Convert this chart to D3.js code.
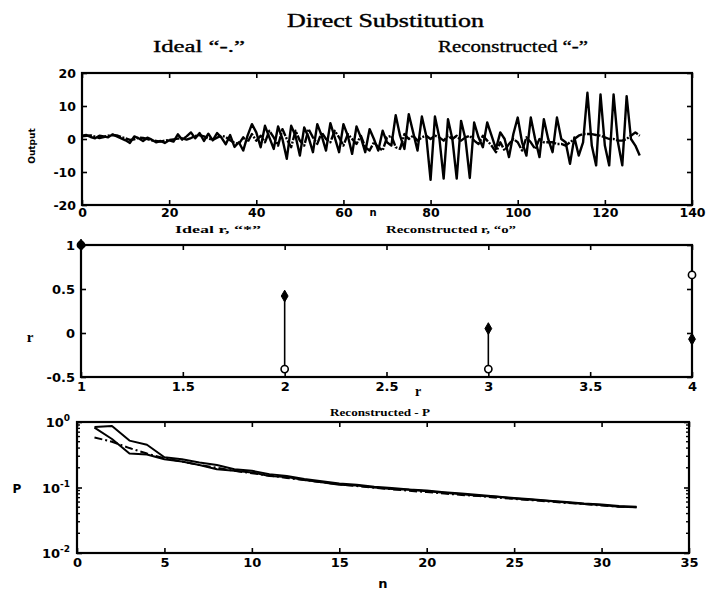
<!DOCTYPE html>
<html><head><meta charset="utf-8">
<script src="https://cdn.jsdelivr.net/npm/d3@7"></script>
<style>body{margin:0;background:#fff}svg{display:block}</style>
</head><body>
<svg id="c" width="711" height="591"></svg>
<script>
// ---- Output signals, n = 0..128 ----
const outIdeal = [
  0.8,1.0,1.1,0.7,0.3,0.6,1.0,1.2,1.1,0.6,0.2,-0.3,-0.1,0.4,0.3,0.0,-0.4,-0.6,-0.8,-0.5,
  -0.3,-0.1,0.1,0.2,-0.2,0.3,0.9,1.2,0.8,0.2,-0.3,0.4,1.0,0.6,-0.4,-1.2,-1.5,0.5,-1.0,1.5,
  -0.5,1.0,-1.0,2.5,0.5,-2.0,3.0,0.0,-2.5,2.5,-0.5,-2.0,3.0,0.5,-1.5,2.0,0.0,-1.0,2.5,0.5,
  -2.0,1.5,0.0,-1.5,1.0,-2.5,-3.5,-1.0,-2.5,-3.5,0.5,1.0,-2.5,-3.0,1.5,0.0,1.0,-0.5,0.5,1.0,
  0.0,1.0,0.5,-0.5,1.0,0.0,1.0,-0.5,0.5,1.0,-0.5,-1.5,1.0,-0.5,-2.0,-4.0,-1.0,-3.5,-1.5,0.0,
  -1.0,-3.5,0.5,-1.0,-3.0,0.0,-1.0,-1.0,-1.0,-1.5,-1.5,-2.0,-1.0,0.0,1.0,1.5,1.5,1.5,1.2,1.0,
  0.5,0.0,0.0,-0.5,-0.5,0.0,1.0,2.0,1.0
];
const outRecon = [
  1.0,1.2,0.6,0.2,1.0,0.8,0.5,1.4,0.8,0.2,-0.4,-1.2,0.8,0.2,-0.6,0.4,-0.2,-1.0,-0.6,-1.2,
  -0.4,-0.8,1.4,-0.2,0.8,2.0,0.2,1.8,-0.6,1.6,-0.4,1.8,0.4,-1.6,1.2,-2.4,-1.0,-3.5,1.0,4.5,
  2.0,-2.5,4.0,0.5,-3.0,3.8,0.0,-6.0,4.0,1.0,-5.0,3.5,0.5,-4.0,4.5,1.0,-3.5,4.8,0.5,-4.0,
  4.5,1.0,-4.5,3.8,0.5,-4.0,3.0,0.0,-3.5,2.5,-1.0,-2.0,7.2,1.0,-3.0,7.5,2.0,-3.5,6.8,1.0,
  -12.4,6.8,0.5,-12.0,6.0,0.0,-12.0,5.5,0.0,-11.8,5.0,0.5,-2.5,5.0,1.0,-3.0,2.0,0.0,-5.5,1.5,
  6.5,-1.0,-5.0,6.5,0.0,-5.5,6.0,0.0,-4.0,6.5,0.0,-1.0,-7.5,0.5,-5.0,-1.0,14.0,-2.0,-8.0,13.5,
  -2.0,-8.0,13.5,-1.0,-8.0,13.0,0.0,-2.0,-5.0
];
const outN = outRecon.map((_, i) => i);

// ---- Reflection coefficients ----
const rOrder = [1, 2, 3, 4];
const rIdeal = [1, 0.42, 0.05, -0.07];
const rRecon = [1, -0.41, -0.41, 0.66];

// ---- Prediction error P, n = 1..32 ----
const pReconA = [0.84,0.87,0.52,0.45,0.29,0.27,0.24,0.22,0.19,0.18,0.16,0.15,0.135,0.125,0.115,0.11,
  0.103,0.098,0.093,0.09,0.085,0.081,0.077,0.073,0.069,0.066,0.063,0.06,0.057,0.055,0.052,0.051];
const pReconB = [0.82,0.55,0.33,0.32,0.27,0.25,0.22,0.19,0.18,0.17,0.15,0.145,0.13,0.12,0.11,0.107,
  0.1,0.095,0.092,0.088,0.083,0.079,0.075,0.072,0.068,0.065,0.062,0.059,0.056,0.054,0.051,0.05];
const pIdeal = [0.58,0.5,0.4,0.33,0.28,0.25,0.22,0.2,0.18,0.165,0.152,0.14,0.13,0.12,0.112,0.105,
  0.099,0.094,0.089,0.085,0.081,0.077,0.074,0.07,0.067,0.064,0.061,0.058,0.056,0.053,0.051,0.05];
const pN = pIdeal.map((_, i) => i + 1);

const outXTicks = [0, 20, 40, 60, 80, 100, 120, 140];
const outYTicks = [-20, -10, 0, 10, 20];
const rXTicks = [1, 1.5, 2, 2.5, 3, 3.5, 4];
const rYTicks = [-0.5, 0, 0.5, 1];
const pXTicks = [0, 5, 10, 15, 20, 25, 30, 35];
const pYTicks = [0.01, 0.1, 1];

const svg = d3.select("#c");
const tickFont = "'DejaVu Sans', sans-serif";
const serif = "'Liberation Serif', 'Times New Roman', serif";

function frame(g, x, y, xt, yt, opts) {
  const tl = 5;
  const [x0, x1] = x.range(), [y0, y1] = y.range();
  const bottom = g.append("g").attr("transform", `translate(0,${y0})`)
    .call(d3.axisBottom(x).tickValues(xt).tickSizeInner(-tl).tickSizeOuter(0).tickPadding(opts.xpad || 5)
      .tickFormat(opts.xfmt || (d => d)));
  const top = g.append("g").attr("transform", `translate(0,${y1})`)
    .call(d3.axisTop(x).tickValues(xt).tickSizeInner(-tl).tickSizeOuter(0).tickFormat(""));
  const left = g.append("g").attr("transform", `translate(${x0},0)`)
    .call(d3.axisLeft(y).tickValues(yt).tickSizeInner(-tl).tickSizeOuter(0).tickPadding(6)
      .tickFormat(opts.yfmt || (d => d)));
  const right = g.append("g").attr("transform", `translate(${x1},0)`)
    .call(d3.axisRight(y).tickValues(yt).tickSizeInner(-tl).tickSizeOuter(0).tickFormat(""));
  [bottom, top, left, right].forEach(a => {
    a.select(".domain").remove();
    a.selectAll("line").attr("stroke", "#000").attr("stroke-width", 1.6);
    a.selectAll("text").attr("font-family", tickFont).attr("font-weight", "bold")
      .attr("font-size", opts.fs || 13).attr("fill", "#000");
  });
  g.append("rect").attr("x", x0).attr("y", y1).attr("width", x1 - x0).attr("height", y0 - y1)
    .attr("fill", "none").attr("stroke", "#000").attr("stroke-width", 2.2);
  return { bottom, left };
}

// ---------- Titles ----------
svg.append("text").attr("x", 287).attr("y", 27).attr("font-family", serif).attr("font-size", 19)
  .attr("stroke", "#000").attr("stroke-width", 0.4)
  .attr("textLength", 197).attr("lengthAdjust", "spacingAndGlyphs").text("Direct Substitution");
svg.append("text").attr("x", 153).attr("y", 52).attr("font-family", serif).attr("font-size", 17)
  .attr("stroke", "#000").attr("stroke-width", 0.35)
  .attr("textLength", 92).attr("lengthAdjust", "spacingAndGlyphs").text("Ideal \u201c-.\u201d");
svg.append("text").attr("x", 438).attr("y", 52).attr("font-family", serif).attr("font-size", 17)
  .attr("stroke", "#000").attr("stroke-width", 0.35)
  .attr("textLength", 150).attr("lengthAdjust", "spacingAndGlyphs").text("Reconstructed \u201c-\u201d");

// ---------- Panel 1: output ----------
const g1 = svg.append("g");
const x1 = d3.scaleLinear().domain([0, 140]).range([82, 692]);
const y1 = d3.scaleLinear().domain([-20, 20]).range([205, 73]);
frame(g1, x1, y1, outXTicks, outYTicks, { fs: 12.5, xpad: 3 });
const line1 = d3.line().x((d, i) => x1(outN[i])).y(d => y1(d)).curve(d3.curveLinear);
g1.append("path").datum(outIdeal).attr("d", line1).attr("fill", "none").attr("stroke", "#000")
  .attr("stroke-width", 2.4).attr("stroke-linejoin", "round").attr("stroke-dasharray", "10,1.5,2,1.5");
g1.append("path").datum(outRecon).attr("d", line1).attr("fill", "none").attr("stroke", "#000")
  .attr("stroke-width", 2.4).attr("stroke-linejoin", "round");
g1.append("text").attr("transform", "translate(35,146) rotate(-90)").attr("text-anchor", "middle")
  .attr("font-family", tickFont).attr("font-weight", "bold").attr("font-size", 9).text("Output");
g1.append("text").attr("x", 373).attr("y", 216).attr("text-anchor", "middle")
  .attr("font-family", tickFont).attr("font-weight", "bold").attr("font-size", 10).text("n");

// ---------- Panel 2: reflection coefficients ----------
const g2 = svg.append("g");
const x2 = d3.scaleLinear().domain([1, 4]).range([81, 692]);
const y2 = d3.scaleLinear().domain([-0.5, 1]).range([377, 245]);
frame(g2, x2, y2, rXTicks, rYTicks, {});
g2.append("g").selectAll("line").data(rOrder).join("line")
  .attr("x1", d => x2(d)).attr("x2", d => x2(d))
  .attr("y1", (d, i) => y2(rIdeal[i])).attr("y2", (d, i) => y2(rRecon[i]))
  .attr("stroke", "#000").attr("stroke-width", 1.6);
g2.append("g").selectAll("circle").data(rOrder).join("circle")
  .attr("cx", d => x2(d)).attr("cy", (d, i) => y2(rRecon[i])).attr("r", 3.6)
  .attr("fill", "#fff").attr("stroke", "#000").attr("stroke-width", 1.6);
g2.append("g").selectAll("path").data(rOrder).join("path")
  .attr("transform", (d, i) => `translate(${x2(d)},${y2(rIdeal[i])})`)
  .attr("d", d3.symbol(d3.symbolDiamond, 40)).attr("fill", "#000").attr("stroke", "#000");
g2.append("text").attr("x", 175).attr("y", 233).attr("font-family", serif).attr("font-weight", "bold")
  .attr("font-size", 10.5).attr("textLength", 86).attr("lengthAdjust", "spacingAndGlyphs")
  .text("Ideal r, \u201c*\u201d");
g2.append("text").attr("x", 386).attr("y", 233).attr("font-family", serif).attr("font-weight", "bold")
  .attr("font-size", 10.5).attr("textLength", 130).attr("lengthAdjust", "spacingAndGlyphs")
  .text("Reconstructed r, \u201co\u201d");
g2.append("text").attr("x", 30).attr("y", 342).attr("text-anchor", "middle")
  .attr("font-family", serif).attr("font-weight", "bold").attr("font-size", 15).text("r");
g2.append("text").attr("x", 418).attr("y", 396).attr("text-anchor", "middle")
  .attr("font-family", serif).attr("font-weight", "bold").attr("font-size", 14).text("r");

// ---------- Panel 3: prediction error ----------
const g3 = svg.append("g");
const x3 = d3.scaleLinear().domain([0, 35]).range([77, 689]);
const y3 = d3.scaleLog().domain([0.01, 1]).range([553, 422]);
frame(g3, x3, y3, pXTicks, pYTicks, { yfmt: () => "" });
// decade labels with superscript exponents
g3.append("g").selectAll("text").data(pYTicks).join("text")
  .attr("x", 70).attr("y", d => y3(d) + 5).attr("text-anchor", "end")
  .attr("font-family", tickFont).attr("font-weight", "bold").attr("font-size", 13)
  .each(function (d) {
    const t = d3.select(this);
    const e = Math.round(Math.log10(d));
    t.append("tspan").text("10");
    t.append("tspan").attr("dy", -6).attr("font-size", 9).text(String(e));
  });
// minor log ticks on both sides
const minors = [];
[0.01, 0.1].forEach(b => { for (let k = 2; k <= 9; k++) minors.push(b * k); });
g3.append("g").selectAll("line").data(minors).join("line")
  .attr("x1", 77).attr("x2", 80).attr("y1", d => y3(d)).attr("y2", d => y3(d))
  .attr("stroke", "#000").attr("stroke-width", 1.4);
g3.append("g").selectAll("line").data(minors).join("line")
  .attr("x1", 689).attr("x2", 686).attr("y1", d => y3(d)).attr("y2", d => y3(d))
  .attr("stroke", "#000").attr("stroke-width", 1.4);
const line3 = d3.line().x((d, i) => x3(pN[i])).y(d => y3(d));
[pReconA, pReconB].forEach(s => {
  g3.append("path").datum(s).attr("d", line3).attr("fill", "none").attr("stroke", "#000")
    .attr("stroke-width", 2).attr("stroke-linejoin", "round");
});
g3.append("path").datum(pIdeal).attr("d", line3).attr("fill", "none").attr("stroke", "#000")
  .attr("stroke-width", 2).attr("stroke-dasharray", "8,3,2,3");
g3.append("text").attr("x", 330).attr("y", 416).attr("font-family", serif).attr("font-weight", "bold")
  .attr("font-size", 11).attr("textLength", 100).attr("lengthAdjust", "spacingAndGlyphs")
  .text("Reconstructed - P");
g3.append("text").attr("x", 17).attr("y", 493).attr("text-anchor", "middle")
  .attr("font-family", tickFont).attr("font-weight", "bold").attr("font-size", 12).text("P");
g3.append("text").attr("x", 383).attr("y", 588).attr("text-anchor", "middle")
  .attr("font-family", tickFont).attr("font-weight", "bold").attr("font-size", 13).text("n");
</script>
</body></html>
